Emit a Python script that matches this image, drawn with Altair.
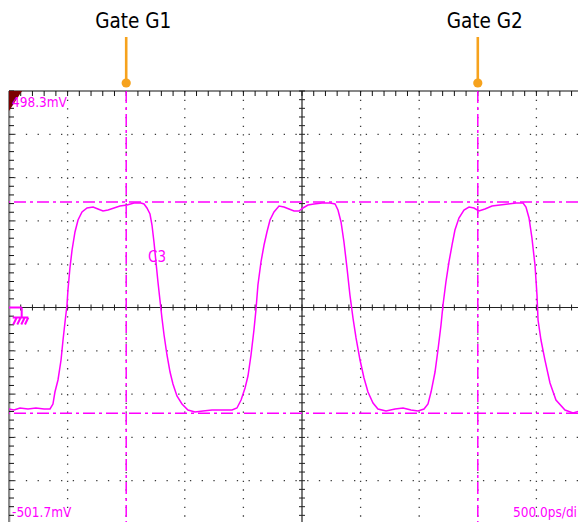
import altair as alt
import numpy as np
import pandas as pd

# ---- Channel C3 waveform ----
time_ps = [0, 43, 94, 162, 230, 299, 350, 375, 392, 418, 444, 461, 478, 495, 503, 520, 538, 563, 589, 623,
           666, 717, 759, 802, 845, 896, 947, 1007, 1067, 1126, 1152, 1177, 1203, 1220, 1237, 1254, 1271, 1288,
           1305, 1323, 1348, 1374, 1399, 1433, 1476, 1527, 1587, 1655, 1732, 1817, 1903, 1945, 1980, 2014, 2039,
           2065, 2090, 2107, 2124, 2150, 2176, 2201, 2227, 2261, 2304, 2346, 2389, 2432, 2474, 2508, 2551, 2602,
           2671, 2739, 2782, 2807, 2833, 2858, 2884, 2909, 2935, 2961, 2995, 3029, 3063, 3106, 3148, 3217, 3294,
           3362, 3430, 3490, 3541, 3575, 3601, 3635, 3660, 3686, 3703, 3728, 3754, 3780, 3805, 3839, 3882, 3925,
           3967, 4010, 4061, 4121, 4189, 4258, 4326, 4386, 4411, 4437, 4462, 4488, 4505, 4514, 4539, 4573, 4616,
           4667, 4744, 4812, 4872, 4923]
volt_mv = [-236.1, -238.4, -233.8, -236.1, -233.8, -236.1, -236.1, -224.6, -196.9, -169.1, -123.0, -76.8, -35.2,
           4.1, 38.7, 89.5, 131.1, 172.7, 200.4, 218.9, 228.1, 230.4, 225.8, 221.2, 223.5, 228.1, 232.7, 235.0,
           239.6, 239.6, 237.3, 228.1, 214.2, 188.8, 149.6, 103.4, 57.2, 15.6, -26.0, -65.2, -111.4, -150.7,
           -178.4, -206.1, -224.6, -238.4, -243.0, -240.7, -238.4, -238.4, -238.4, -233.8, -215.3, -187.6, -159.9,
           -111.4, -53.7, -7.5, 50.3, 103.4, 142.6, 172.7, 200.4, 218.9, 232.7, 230.4, 225.8, 221.2, 221.2, 228.1,
           235.0, 237.3, 239.6, 239.6, 237.3, 223.5, 195.8, 149.6, 89.5, 27.2, -26.0, -72.1, -123.0, -164.5,
           -196.9, -222.3, -236.1, -240.7, -236.1, -233.8, -238.4, -240.7, -236.1, -224.6, -196.9, -150.7, -99.9,
           -42.1, 4.1, 57.2, 103.4, 142.6, 177.3, 205.0, 223.5, 230.4, 228.1, 221.2, 225.8, 232.7, 235.0, 237.3,
           239.6, 239.6, 230.4, 205.0, 158.8, 96.5, 27.2, -30.6, -76.8, -123.0, -176.1, -215.3, -238.4, -245.4,
           -240.7, -238.4]

# ---- Scope settings / annotations ----
t_start, t_full = 0, 5000         # 10 div x 500 ps/div
v_top, v_bottom = 498.3, -501.7   # 10 div x 100 mV/div
v_center = -1.7
ps_per_div, mv_per_div = 500, 100
gate_t = [1000, 4000]
gate_labels = ["Gate G1", "Gate G2"]
level_mv = [242.0, -246.0]
top_label, bottom_label, time_label, chan_label = "498.3mV", "-501.7mV", "500.0ps/di", "C3"
chan_label_pos = (1263, 103.4)

MAG = "#FF00FF"
ORANGE = "#F6A21D"
GRID = "#3a3a3a"
FONT = "DejaVu Sans Condensed, Liberation Sans, sans-serif"

# layout: the screen is 10 div of 58.6 px wide, but only the part that fits the page is shown
DIV_PX = 58.6
PLOT_W = 569
PLOT_H = 433
t_end = PLOT_W / DIV_PX * ps_per_div

# derived grid positions
major_t = [ps_per_div * k for k in range(1, 10) if k != 5]
major_v = [v_center + mv_per_div * k for k in range(-4, 5) if k != 0]
minor_t = [t for t in np.arange(t_start, t_full + 1, ps_per_div / 5) if t <= t_end]
minor_v = list(v_bottom + (mv_per_div / 5) * np.arange(51))

xs = alt.Scale(domain=[t_start, t_end], nice=False, zero=False)
ys = alt.Scale(domain=[v_bottom, v_top], nice=False, zero=False)


def X(f="t"):
    return alt.X(f, type="quantitative", scale=xs, axis=None)


def Y(f="v"):
    return alt.Y(f, type="quantitative", scale=ys, axis=None)


wave = pd.DataFrame({"t": time_ps, "v": volt_mv})
df_major_t = pd.DataFrame({"t": major_t})
df_major_v = pd.DataFrame({"v": major_v})
df_ctr_h = pd.DataFrame({"t": minor_t, "v": [v_center] * len(minor_t)})
df_ctr_v = pd.DataFrame({"t": [2500] * len(minor_v), "v": minor_v})
df_top = pd.DataFrame({"t": minor_t, "v": [v_top] * len(minor_t)})
df_left = pd.DataFrame({"t": [t_start] * len(minor_v), "v": minor_v})
df_gate = pd.DataFrame({"t": gate_t, "label": gate_labels})
df_level = pd.DataFrame({"v": level_mv})

layers = []
# dotted grid
layers.append(alt.Chart(df_major_t).mark_rule(color=GRID, strokeWidth=1.3, strokeDash=[1.3, 7.36]).encode(x=X()))
layers.append(alt.Chart(df_major_v).mark_rule(color=GRID, strokeWidth=1.3, strokeDash=[1.3, 10.42]).encode(y=Y()))
# centre cross-hair with ticks
layers.append(alt.Chart(pd.DataFrame({"t": [2500]})).mark_rule(color="#222", strokeWidth=1.2).encode(x=X()))
layers.append(alt.Chart(pd.DataFrame({"v": [v_center]})).mark_rule(color="#222", strokeWidth=1.2).encode(y=Y()))
layers.append(alt.Chart(df_ctr_h).mark_tick(orient="vertical", size=6, thickness=1, color="#222", opacity=1)
              .encode(x=X(), y=Y()))
layers.append(alt.Chart(df_ctr_v).mark_tick(orient="horizontal", size=6, thickness=1, color="#222", opacity=1)
              .encode(x=X(), y=Y()))
# borders with ticks
layers.append(alt.Chart(pd.DataFrame({"v": [v_top]})).mark_rule(color="#111", strokeWidth=1.2).encode(y=Y()))
layers.append(alt.Chart(df_top).mark_tick(orient="vertical", size=5, thickness=1, color="#111", opacity=1, yOffset=2.5)
              .encode(x=X(), y=Y()))
layers.append(alt.Chart(pd.DataFrame({"t": [t_start]})).mark_rule(color="#8c8c8c", strokeWidth=2.6).encode(x=X()))
layers.append(alt.Chart(df_left).mark_tick(orient="horizontal", size=5, thickness=1, color="#111", opacity=1, xOffset=2.5)
              .encode(x=X(), y=Y()))
# magenta cursors
layers.append(alt.Chart(df_gate).mark_rule(color=MAG, strokeWidth=1.5, strokeDash=[12, 4, 3, 4]).encode(x=X()))
layers.append(alt.Chart(df_level).mark_rule(color=MAG, strokeWidth=1.5, strokeDash=[12, 4, 3, 4]).encode(y=Y()))
# waveform
layers.append(alt.Chart(wave).mark_line(color=MAG, strokeWidth=1.5, clip=True).encode(x=X(), y=Y()))
# ground marker
GROUND = ("M0,0 L1.27,0 M1.27,0 L1.27,1.0 M0.37,1.0 L1.93,1.0 M0.77,1.0 L0.43,1.7 "
          "M1.17,1.0 L0.83,1.7 M1.57,1.0 L1.23,1.7 M1.93,1.0 L1.6,1.7")
layers.append(alt.Chart(pd.DataFrame({"t": [t_start], "v": [v_center]}))
              .mark_point(shape=GROUND, size=400, filled=False, stroke=MAG, strokeWidth=2, opacity=1)
              .encode(x=X(), y=Y()))
# dark-red corner marker
layers.append(alt.Chart(pd.DataFrame({"t": [t_start], "v": [v_top]}))
              .mark_point(shape="M0,0 L1.3,0 L0,2 Z", size=400, filled=True, color="#7a0000", opacity=1)
              .encode(x=X(), y=Y()))
# scope texts
layers.append(alt.Chart(pd.DataFrame({"t": [t_start], "v": [v_top], "s": [top_label]}))
              .mark_text(align="left", baseline="alphabetic", dx=3, dy=16, font=FONT, fontSize=13.5, color=MAG)
              .encode(x=X(), y=Y(), text="s:N"))
layers.append(alt.Chart(pd.DataFrame({"t": [t_start], "v": [v_bottom], "s": [bottom_label]}))
              .mark_text(align="left", baseline="alphabetic", dx=3, dy=-7, font=FONT, fontSize=13.5, color=MAG)
              .encode(x=X(), y=Y(), text="s:N"))
layers.append(alt.Chart(pd.DataFrame({"t": [t_end], "v": [v_bottom], "s": [time_label]}))
              .mark_text(align="right", baseline="alphabetic", dx=-1, dy=-7, font=FONT, fontSize=13.5, color=MAG)
              .encode(x=X(), y=Y(), text="s:N"))
layers.append(alt.Chart(pd.DataFrame({"t": [chan_label_pos[0]], "v": [chan_label_pos[1]], "s": [chan_label]}))
              .mark_text(align="center", baseline="alphabetic", font=FONT, fontSize=15, color=MAG)
              .encode(x=X(), y=Y(), text="s:N"))
# gate annotations above the screen
layers.append(alt.Chart(df_gate).mark_rule(color=ORANGE, strokeWidth=2.6)
              .encode(x=X(), y=alt.value(-54), y2=alt.value(-8)))
layers.append(alt.Chart(df_gate).mark_point(shape="circle", size=85, filled=True, color=ORANGE, opacity=1)
              .encode(x=X(), y=alt.value(-8)))
layers.append(alt.Chart(df_gate).mark_text(align="center", baseline="alphabetic", dx=7, font=FONT, fontSize=20.5,
                                           color="#000")
              .encode(x=X(), y=alt.value(-63), text="label:N"))

chart = alt.layer(*layers).properties(
    width=PLOT_W, height=PLOT_H,
    autosize=alt.AutoSizeParams(type="none"),
    padding={"left": 1, "top": 83, "right": 0, "bottom": 0},
    background="white",
).configure_view(stroke=None)

chart.save("out.html", embed_options={"renderer": "svg", "actions": False})
